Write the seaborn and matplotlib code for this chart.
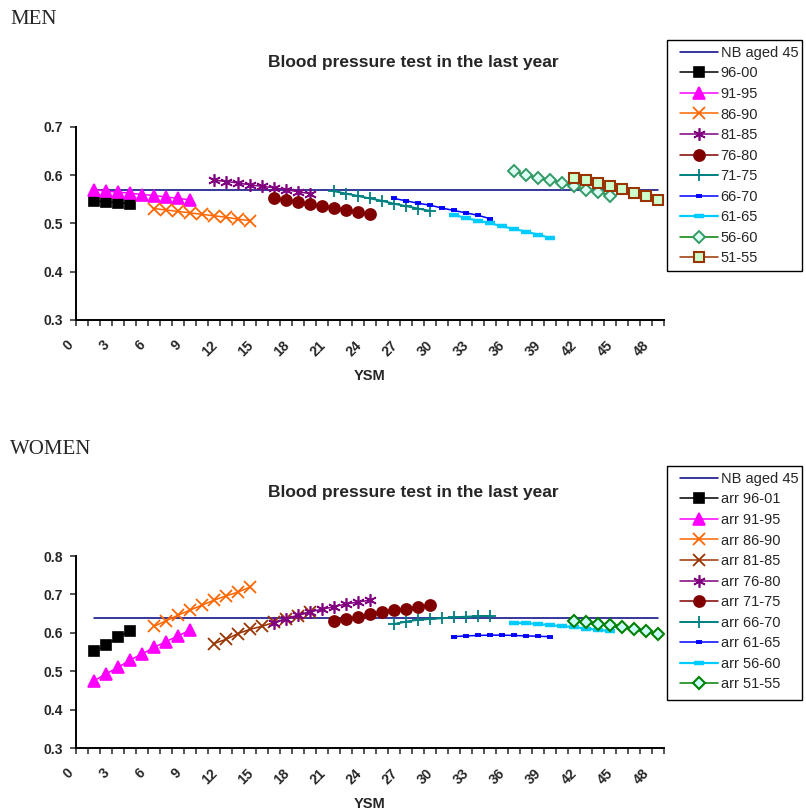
import numpy as np
import pandas as pd
import matplotlib
matplotlib.use("Agg")
import matplotlib.pyplot as plt
import matplotlib.transforms as mtransforms
from matplotlib.patches import Rectangle
import seaborn as sns

# ── Data ─────────────────────────────────────────────────────────────
ysm_ticks = list(range(0, 49, 3))
nb_ysm = [1, 48]                 # national benchmark line, first/last YSM
nb_men = 0.569
nb_women = 0.638

men_labels = ["96-00", "91-95", "86-90", "81-85", "76-80",
              "71-75", "66-70", "61-65", "56-60", "51-55"]
men_start = [1, 1, 6, 11, 16, 21, 26, 31, 36, 41]
men_values = [
    [0.547, 0.545, 0.543, 0.541],
    [0.570, 0.567, 0.565, 0.563, 0.560, 0.558, 0.555, 0.552, 0.549],
    [0.531, 0.528, 0.525, 0.522, 0.519, 0.516, 0.513, 0.509, 0.506],
    [0.590, 0.587, 0.584, 0.580, 0.577, 0.574, 0.570, 0.566, 0.562],
    [0.552, 0.549, 0.545, 0.540, 0.536, 0.533, 0.527, 0.524, 0.519],
    [0.567, 0.562, 0.557, 0.552, 0.547, 0.541, 0.536, 0.531, 0.526],
    [0.552, 0.547, 0.542, 0.538, 0.532, 0.527, 0.522, 0.517, 0.510],
    [0.518, 0.511, 0.506, 0.501, 0.494, 0.489, 0.483, 0.477, 0.470],
    [0.608, 0.601, 0.595, 0.590, 0.584, 0.577, 0.570, 0.565, 0.558],
    [0.595, 0.590, 0.583, 0.577, 0.571, 0.564, 0.557, 0.549],
]

women_labels = ["arr 96-01", "arr 91-95", "arr 86-90", "arr 81-85", "arr 76-80",
                "arr 71-75", "arr 66-70", "arr 61-65", "arr 56-60", "arr 51-55"]
women_start = [1, 1, 6, 11, 16, 21, 26, 31, 36, 41]
women_values = [
    [0.552, 0.568, 0.588, 0.605],
    [0.475, 0.493, 0.510, 0.529, 0.545, 0.562, 0.577, 0.592, 0.607],
    [0.617, 0.631, 0.646, 0.659, 0.672, 0.685, 0.696, 0.706, 0.719],
    [0.572, 0.583, 0.598, 0.609, 0.617, 0.627, 0.636, 0.644, 0.655],
    [0.626, 0.637, 0.646, 0.655, 0.661, 0.668, 0.675, 0.680, 0.685],
    [0.630, 0.636, 0.642, 0.650, 0.654, 0.659, 0.663, 0.668, 0.672],
    [0.623, 0.629, 0.634, 0.636, 0.638, 0.640, 0.642, 0.643, 0.644],
    [0.590, 0.592, 0.593, 0.594, 0.594, 0.593, 0.592, 0.591, 0.590],
    [0.626, 0.625, 0.623, 0.620, 0.617, 0.615, 0.611, 0.608, 0.604],
    [0.631, 0.628, 0.624, 0.620, 0.616, 0.610, 0.605, 0.597],
]

# ── Series styles (Excel-like markers) ───────────────────────────────
def sty(color, marker, ms, mfc=None, mec=None, mew=1.2, lw=1.1):
    return dict(color=color, marker=marker, markersize=ms,
                markerfacecolor=mfc or color, markeredgecolor=mec or color,
                markeredgewidth=mew, linewidth=lw)

asterisk = (6, 2, 0)
sq_black = sty("black", "s", 7)
tri_mag = sty("#FF00FF", "^", 8)
x_orange = sty("#FF6600", "x", 8, mew=1.3)
x_brown = sty("#993300", "x", 8, mew=1.3)
ast_purple = sty("#800080", asterisk, 9, mew=1.2)
dot_red = sty("#800000", "o", 8)
plus_teal = sty("#008080", "+", 9, mew=1.3, lw=1.4)
dash_blue = sty("#0000FF", "_", 4.5, mew=2.8)
dash_cyan = sty("#00CCFF", "_", 7, mew=3.2, lw=1.6)

men_styles = [sq_black, tri_mag, x_orange, ast_purple, dot_red, plus_teal,
              dash_blue, dash_cyan,
              sty("#008000", "D", 6, mfc="#DDFFF4", mec="#339966", mew=1.4),
              sty("#993300", "s", 7.5, mfc="#CCFFCC", mec="#993300", mew=1.5)]
women_styles = [sq_black, tri_mag, x_orange, x_brown, ast_purple, dot_red,
                plus_teal, dash_blue, dash_cyan,
                sty("#008000", "D", 6, mfc="#CCFFFF", mec="#008000", mew=1.5)]

# ── Theme ────────────────────────────────────────────────────────────
sns.set_style("white")
plt.rcParams["font.family"] = ["Liberation Sans", "DejaVu Sans"]
plt.rcParams["axes.edgecolor"] = "black"

W, H = 806, 811
fig = plt.figure(figsize=(W / 100, H / 100), dpi=100)


def px_box(left, top, right, bottom):
    return [left / W, 1 - bottom / H, (right - left) / W, (bottom - top) / H]


def draw_panel(ax, labels, starts, values, styles, nb, ylim, yticks,
               legend_box):
    df_nb = pd.DataFrame({"YSM": nb_ysm, "value": [nb, nb]})
    sns.lineplot(data=df_nb, x="YSM", y="value", ax=ax, color="#000080",
                 linewidth=1.1, label="NB aged 45")
    for lab, st, vals, s in zip(labels, starts, values, styles):
        df = pd.DataFrame({"YSM": np.arange(st, st + len(vals)), "value": vals})
        sns.lineplot(data=df, x="YSM", y="value", ax=ax, label=lab, **s)

    ax.set_xlim(-0.5, 48.5)
    ax.set_ylim(*ylim)
    ax.set_yticks(yticks)
    ax.set_yticklabels([f"{t:.1f}" for t in yticks], fontweight="bold",
                       fontsize=10)
    ax.set_xticks(ysm_ticks)
    ax.set_xticklabels([str(t) for t in ysm_ticks], fontweight="bold",
                       fontsize=10, rotation=45, ha="right", va="top")
    ax.set_xticks(np.arange(-0.5, 49, 1), minor=True)
    ax.tick_params(axis="x", which="major", length=0, pad=13)
    ax.tick_params(axis="x", which="minor", length=4, width=1.1,
                   direction="out", bottom=True)
    ax.tick_params(axis="y", which="major", length=4, width=1.1,
                   direction="out", left=True, pad=5)
    shift = mtransforms.ScaledTranslation(-6 / 100, 0, fig.dpi_scale_trans)
    for t in ax.get_xticklabels():
        t.set_transform(t.get_transform() + shift)
    ax.set_xlabel("")
    ax.set_ylabel("")
    sns.despine(ax=ax)
    for sp in ("left", "bottom"):
        ax.spines[sp].set_linewidth(1.4)
        ax.spines[sp].set_color("black")
    ax.grid(False)

    # legend box drawn separately: Excel pads more on the sides than on top
    left, top, right, bottom = legend_box
    fig.patches.append(Rectangle((left / W, 1 - bottom / H),
                                 (right - left) / W, (bottom - top) / H,
                                 transform=fig.transFigure, fill=False,
                                 edgecolor="black", linewidth=1.0))
    handles, labs = ax.get_legend_handles_labels()
    ax.legend(handles, labs, loc="upper left",
              bbox_to_anchor=((left + 7) / W, 1 - top / H),
              bbox_transform=fig.transFigure, borderaxespad=0,
              frameon=False, fontsize=10.5, handlelength=2.6,
              handletextpad=0.2, labelspacing=0.45, borderpad=0.4)


ax1 = fig.add_axes(px_box(76, 127, 664, 320))
draw_panel(ax1, men_labels, men_start, men_values, men_styles, nb_men,
           (0.3, 0.7), [0.3, 0.4, 0.5, 0.6, 0.7], (667, 40, 802, 271))

ax2 = fig.add_axes(px_box(76, 556, 664, 748))
draw_panel(ax2, women_labels, women_start, women_values, women_styles,
           nb_women, (0.3, 0.8), [0.3, 0.4, 0.5, 0.6, 0.7, 0.8],
           (667, 466, 802, 700))

# ── Text ─────────────────────────────────────────────────────────────
serif = ["Liberation Serif", "DejaVu Serif"]
fig.text(10 / W, 1 - 20 / H, "MEN", family=serif, fontsize=15, va="center")
fig.text(10 / W, 1 - 450 / H, "WOMEN", family=serif, fontsize=15, va="center")
title = "Blood pressure test in the last year"
fig.text(413 / W, 1 - 62 / H, title, fontsize=12.5, fontweight="bold",
         ha="center", va="center")
fig.text(413 / W, 1 - 492 / H, title, fontsize=12.5, fontweight="bold",
         ha="center", va="center")
fig.text(370 / W, 1 - 376 / H, "YSM", fontsize=10.5, fontweight="bold",
         ha="center", va="center")
fig.text(370 / W, 1 - 804 / H, "YSM", fontsize=10.5, fontweight="bold",
         ha="center", va="center")

fig.savefig("out.png", dpi=100, facecolor="white")
